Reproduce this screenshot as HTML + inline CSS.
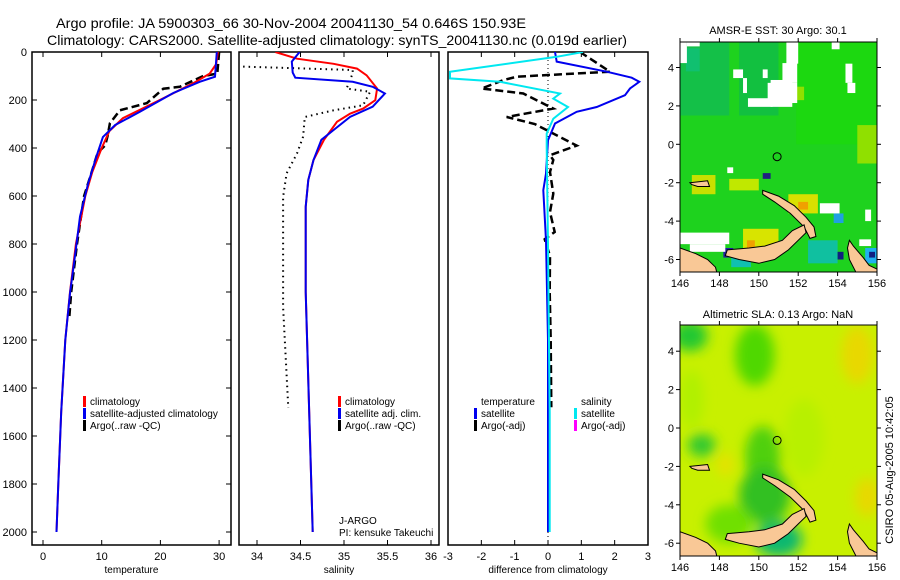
<!DOCTYPE html>
<html><head><meta charset="utf-8"><style>
html,body{margin:0;padding:0;background:#fff;}
svg{display:block;font-family:"Liberation Sans",sans-serif;}
</style></head><body>
<svg id="chart" width="900" height="580" viewBox="0 0 900 580" xmlns="http://www.w3.org/2000/svg">
<defs>
<filter id="blur" x="-20%" y="-20%" width="140%" height="140%"><feGaussianBlur stdDeviation="6"/></filter>
<clipPath id="clipM1"><rect x="680" y="42" width="197" height="230"/></clipPath>
<clipPath id="clipM2"><rect x="680" y="325" width="197" height="231"/></clipPath>
<clipPath id="clipP1"><rect x="32" y="52" width="199" height="493"/></clipPath>
<clipPath id="clipP2"><rect x="239" y="52" width="200" height="493"/></clipPath>
<clipPath id="clipP3"><rect x="448" y="52" width="200" height="493"/></clipPath>
</defs>
<text x="56" y="28" font-size="14" textLength="470" lengthAdjust="spacingAndGlyphs">Argo profile: JA 5900303_66 30-Nov-2004 20041130_54 0.646S 150.93E</text>
<text x="47" y="45" font-size="14" textLength="580" lengthAdjust="spacingAndGlyphs">Climatology: CARS2000. Satellite-adjusted climatology: synTS_20041130.nc (0.019d earlier)</text>
<g id="g"></g>
<text x="778" y="34" font-size="11" text-anchor="middle">AMSR-E SST: 30 Argo: 30.1</text>
<text x="778" y="318" font-size="11" text-anchor="middle">Altimetric SLA: 0.13 Argo: NaN</text>
<text x="0" y="0" font-size="11" text-anchor="middle" transform="translate(893,470) rotate(-90)">CSIRO 05-Aug-2005 10:42:05</text>
</svg>
<script>
// ---- data ----
const tClimD=[0,50,90,130,200,276,330,400,500,600,800,1000,1200,1500,1800,2000];
const tClimV=[29.8,29.5,28.4,25.6,19.9,13.6,11.3,10.0,8.4,7.2,5.6,4.6,3.8,3.1,2.6,2.3];
const tSatD=[0,103,124,171,249,304,354,436,547,686,839,1005,1200,1500,1800,2000];
const tSatV=[29.6,29.3,26.7,22.2,16.5,12.3,10.2,9.1,7.7,6.3,5.5,4.6,3.8,3.1,2.6,2.3];
const tArgD=[0,90,100,145,153,213,243,297,350,389,420,500,600,800,1000,1100];
const tArgV=[30.0,29.7,27.3,23.3,20.5,17.7,13.1,11.4,11.0,10.6,9.3,8.3,7.0,5.8,4.8,4.5];
const sClimD=[0,28,49,69,97,152,201,236,257,291,366,450,533,645,1000,1500,2000];
const sClimV=[34.21,34.46,34.88,35.15,35.26,35.38,35.36,35.22,35.07,34.92,34.77,34.65,34.59,34.56,34.56,34.60,34.64];
const sSatD=[0,40,86,107,124,145,173,228,270,325,366,450,533,645,1000,1500,2000];
const sSatV=[34.49,34.40,34.41,34.44,35.10,35.33,35.47,35.33,35.07,34.88,34.74,34.65,34.59,34.56,34.56,34.60,34.64];
const sArgD=[61,75,89,152,166,222,243,271,353,423,506,604,1063,1483];
const sArgV=[33.84,35.10,35.10,35.03,35.30,35.22,34.88,34.55,34.53,34.46,34.34,34.30,34.30,34.36];
const dTSatD=[0,40,82,107,124,152,180,229,249,298,368,507,576,785,1200,2000];
const dTSatV=[0.21,0.26,1.76,2.51,2.74,2.46,2.31,1.46,0.86,0.21,0.0,-0.06,-0.14,-0.06,0.0,0.0];
const dSSatD=[0,20,82,110,124,173,194,229,278,340,396,800,1500,2000];
const dSSatV=[1.05,0.26,-2.94,-2.94,-1.44,0.36,0.16,0.60,0.16,-0.04,-0.04,0.0,0.05,0.05];
const dTArgD=[0,82,103,117,152,173,236,271,300,390,430,450,500,590,667,750,780,850,1000,1200,1480];
const dTArgV=[0.96,1.86,-0.94,-1.34,-1.99,-0.74,0.16,-1.24,-0.4,0.86,0.06,0.16,0.06,0.16,0.06,0.2,-0.1,0.06,0.05,0.08,0.1];
const depthTicks=[0,200,400,600,800,1000,1200,1400,1600,1800,2000];
const tTicks=[0,10,20,30];
const sTicks=[34,34.5,35,35.5,36];
const dTicks=[-3,-2,-1,0,1,2,3];
const lonTicks=[146,148,150,152,154,156];
const latTicks=[4,2,0,-2,-4,-6];
const argoLon=150.93, argoLat=-0.646;
const sstWhite=[[146,146.35,5.33,4.23],[146.35,147.0,5.33,5.1],[148.7,149.2,3.9,3.45],[149.2,149.4,3.45,2.67],[150.2,150.45,3.9,3.45],[151.4,152.0,5.33,4.2],[151.2,151.95,4.23,3.2],[150.45,151.95,3.2,2.15],[149.45,150.7,2.4,1.95],[150.6,151.7,3.35,1.95],[153.7,154.1,5.33,4.95],[154.4,154.75,4.2,3.2],[154.5,154.9,3.2,2.67],[148.4,148.7,-1.2,-1.5],[153.1,154.1,-3.07,-3.6],[155.4,155.7,-3.4,-4.0],[146,148.5,-4.6,-5.2],[146.5,148.3,-5.2,-5.6],[155.1,155.7,-4.95,-5.3]];
const sstPatch=[[146,148.5,5.33,1.5,'#14c048'],[146.3,147,5.0,3.8,'#10c070'],[149,151,5.3,1.5,'#12c040'],[151.9,156,5.3,0,'#1cd810'],[155,156,1,-1,'#90e000'],[151.6,152.3,3.0,2.3,'#90e000'],[148.5,150,-1.8,-2.4,'#c0e800'],[146.6,147.8,-1.6,-2.6,'#c8e000'],[151.5,153,-2.6,-3.6,'#d8e000'],[152,152.5,-3.0,-3.4,'#f0a000'],[149.2,151,-4.4,-5.5,'#d8e400'],[149.4,149.8,-5.0,-5.4,'#f0a000'],[148.2,148.7,-5.4,-5.9,'#2020a0'],[150.2,150.6,-1.5,-1.8,'#202080'],[153.8,154.3,-3.6,-4.1,'#20a0e0'],[155.4,156,-5.4,-6.2,'#20b0f0'],[155.6,155.9,-5.6,-5.9,'#102080'],[148.6,149.6,-5.8,-6.4,'#10c0b0'],[152.5,154,-5,-6.2,'#10c0a0'],[154.0,154.3,-5.6,-6.0,'#102080']];
const slaBlob=[[146.5,4.8,0.9,0.8,'#20c830'],[149.8,3.8,1.0,1.6,'#50d800'],[146.6,1.5,0.6,1.5,'#b0f000'],[147.1,-0.9,0.7,0.6,'#30c830'],[150.2,-1.5,0.9,1.6,'#50d010'],[150.3,-3.5,1.3,1.5,'#30c020'],[151.0,-5.8,1.2,0.9,'#10b870'],[148.5,-5,1.2,1,'#70e000'],[155.0,3.8,0.8,1.5,'#e8d800'],[155.5,-3.6,0.6,1.0,'#e8d800'],[148.3,-1.9,0.4,0.6,'#e8e000'],[152.3,-0.5,1.0,2,'#b8f000']];
const landPolys=[
[[150.2,-2.4],[151,-2.7],[151.8,-3.2],[152.4,-3.8],[152.8,-4.3],[152.9,-4.8],[152.6,-4.9],[152.3,-4.3],[151.6,-3.6],[150.8,-3.0],[150.2,-2.6]],
[[148.4,-5.5],[149.5,-5.4],[150.3,-5.3],[151.2,-5.0],[151.7,-4.5],[152.3,-4.2],[152.4,-4.6],[152.0,-5.0],[151.5,-5.5],[150.8,-6.0],[150.0,-6.2],[149.0,-6.0],[148.3,-5.8]],
[[146,-5.4],[146.8,-5.7],[147.4,-6.0],[147.8,-6.4],[147.9,-6.8],[146,-6.8]],
[[146.5,-2.0],[147.4,-1.9],[147.5,-2.2],[146.9,-2.2],[146.6,-2.1]],
[[154.6,-5.0],[154.8,-5.3],[155.3,-5.9],[155.6,-6.3],[156,-6.5],[156,-6.8],[155.0,-6.8],[154.6,-6.0],[154.5,-5.4]]];

// ---- scales ----
const NS='http://www.w3.org/2000/svg';
const G=document.getElementById('g');
const yD=d=>52+d*0.24;
const xT=t=>43+5.87*t;
const xS=s=>257+87*(s-34);
const xF=v=>548+33.33*v;
const mLon=l=>680+(l-146)*19.7;
const m1Lat=a=>144.3-a*19.2;
const m2Lat=a=>428-a*19.2;
function mk(tag,attrs,parent){const e=document.createElementNS(NS,tag);for(const k in attrs)e.setAttribute(k,attrs[k]);(parent||G).appendChild(e);return e;}
function txt(x,y,s,anchor,size){const e=mk('text',{x:x,y:y,'font-size':size||11,'text-anchor':anchor||'start'});e.textContent=s;return e;}
function line(D,V,fx,color,w,dash,clip,name){
  const pts=D.map((d,i)=>fx(V[i]).toFixed(1)+','+yD(d).toFixed(1)).join(' ');
  const e=mk('polyline',{points:pts,fill:'none',stroke:color,'stroke-width':w,'clip-path':'url(#'+clip+')'});
  if(dash)e.setAttribute('stroke-dasharray',dash);
  
  
}
function panel(x0,x1,ticks,fx,labels,xlabel,name){
  const b=mk('rect',{x:x0,y:52,width:x1-x0,height:493,fill:'#fff',stroke:'#000','stroke-width':1.5});
  
  
  ticks.forEach((t,i)=>{const x=fx(t);
    mk('line',{x1:x,x2:x,y1:52,y2:57,stroke:'#000'});
    mk('line',{x1:x,x2:x,y1:540,y2:545,stroke:'#000'});
    const l=txt(x,560,labels[i],'middle',11);
    
    
  });
  const xl=txt((x0+x1)/2,573,xlabel,'middle',10);
  
  
}
panel(32,231,tTicks,xT,tTicks.map(String),'temperature','temp-panel');
panel(239,439,sTicks,xS,sTicks.map(String),'salinity','sal-panel');
panel(448,648,dTicks,xF,dTicks.map(String),'difference from climatology','diff-panel');
depthTicks.forEach(d=>{const y=yD(d);
  mk('line',{x1:32,x2:37,y1:y,y2:y,stroke:'#000'});
  mk('line',{x1:226,x2:231,y1:y,y2:y,stroke:'#000'});
  const l=txt(27,y+4,String(d),'end',11);
  
  
});
const z=mk('line',{x1:xF(0),x2:xF(0),y1:52,y2:545,stroke:'#000','stroke-width':1,'stroke-dasharray':'1,3'});



line(tArgD,tArgV,xT,'#000',2.5,'8,4','clipP1','temp-argo-line');
line(tClimD,tClimV,xT,'#f00',2,null,'clipP1','temp-clim-line');
line(tSatD,tSatV,xT,'#0000ee',2,null,'clipP1','temp-sat-line');
line(sArgD,sArgV,xS,'#000',2,'1.5,4','clipP2','sal-argo-line');
line(sClimD,sClimV,xS,'#f00',2,null,'clipP2','sal-clim-line');
line(sSatD,sSatV,xS,'#0000ee',2,null,'clipP2','sal-sat-line');
line(dTArgD,dTArgV,xF,'#000',2.5,'8,4','clipP3','diff-temp-argo-line');
line(dTSatD,dTSatV,xF,'#0000ee',2,null,'clipP3','diff-temp-sat-line');
line(dSSatD,dSSatV,xF,'#00e8f0',2,null,'clipP3','diff-sal-sat-line');

function legend(x,y,color,label,name){
  if(color){const r=mk('rect',{x:x,y:y-9,width:3,height:11,fill:color});
    
    }
  const t=txt(x+7,y,label,'start',10);
  
  
}
legend(83,405,'#f00','climatology','legend-temp-clim');
legend(83,417,'#0000ee','satellite-adjusted climatology','legend-temp-sat');
legend(83,429,'#000','Argo(..raw -QC)','legend-temp-argo');
legend(338,405,'#f00','climatology','legend-sal-clim');
legend(338,417,'#0000ee','satellite adj. clim.','legend-sal-sat');
legend(338,429,'#000','Argo(..raw -QC)','legend-sal-argo');
legend(474,405,null,'temperature','legend-diff-temp-head');
legend(474,417,'#0000ee','satellite','legend-diff-temp-sat');
legend(474,429,'#000','Argo(-adj)','legend-diff-temp-argo');
legend(574,405,null,'salinity','legend-diff-sal-head');
legend(574,417,'#00e8f0','satellite','legend-diff-sal-sat');
legend(574,429,'#ff00ff','Argo(-adj)','legend-diff-sal-argo');
legend(332,524,null,'J-ARGO','pi-group');
legend(332,536,null,'PI: kensuke Takeuchi','pi-name');

// ---- maps ----
function mapFrame(fy,top,bot,clip,name,isSST){
  const g=mk('g',{'clip-path':'url(#'+clip+')'});
  
  
  if(isSST){
    mk('rect',{x:680,y:top,width:197,height:bot-top,fill:'#1ed21e'},g);
    sstPatch.forEach(p=>mk('rect',{x:mLon(p[0]),y:fy(p[2]),width:mLon(p[1])-mLon(p[0]),height:fy(p[3])-fy(p[2]),fill:p[4]},g));
    sstWhite.forEach(p=>mk('rect',{x:mLon(p[0]),y:fy(p[2]),width:mLon(p[1])-mLon(p[0]),height:fy(p[3])-fy(p[2]),fill:'#fff'},g));
  } else {
    mk('rect',{x:680,y:top,width:197,height:bot-top,fill:'#c8f000'},g);
    const bg=mk('g',{filter:'url(#blur)'},g);
    slaBlob.forEach(b=>mk('ellipse',{cx:mLon(b[0]),cy:fy(b[1]),rx:b[2]*19.7,ry:b[3]*19.2,fill:b[4]},bg));
  }
  landPolys.forEach(p=>{const pts=p.map(q=>mLon(q[0]).toFixed(1)+','+fy(q[1]).toFixed(1)).join(' ');
    const e=mk('polygon',{points:pts,fill:'#f9c896',stroke:'#000','stroke-width':1},g);
    
    });
  const c=mk('circle',{cx:mLon(argoLon),cy:fy(argoLat),r:4,fill:'none',stroke:'#000','stroke-width':1});
  
  
  mk('rect',{x:680,y:top,width:197,height:bot-top,fill:'none',stroke:'#000','stroke-width':1});
  lonTicks.forEach(l=>{const x=mLon(l);
    mk('line',{x1:x,x2:x,y1:top-4,y2:top,stroke:'#000'});
    mk('line',{x1:x,x2:x,y1:bot,y2:bot+4,stroke:'#000'});
    const t=txt(x,bot+15,String(l),'middle',11);
    
    });
  latTicks.forEach(a=>{const y=fy(a);
    mk('line',{x1:676,x2:680,y1:y,y2:y,stroke:'#000'});
    mk('line',{x1:877,x2:881,y1:y,y2:y,stroke:'#000'});
    const t=txt(674,y+4,String(a),'end',11);
    
    });
}
mapFrame(m1Lat,42,272,'clipM1','sst-map',true);
mapFrame(m2Lat,325,556,'clipM2','sla-map',false);
</script>
</body></html>
